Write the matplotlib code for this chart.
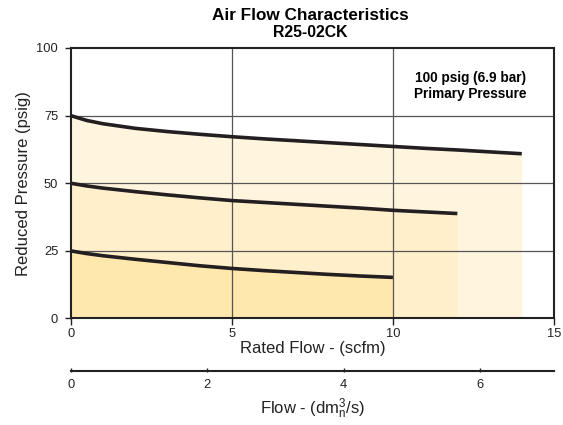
import matplotlib
matplotlib.use("Agg")
import matplotlib.pyplot as plt

plt.rcParams['font.family'] = ['Liberation Sans', 'DejaVu Sans']
plt.rcParams['mathtext.fontset'] = 'custom'
plt.rcParams['mathtext.rm'] = 'Liberation Sans'
plt.rcParams['mathtext.it'] = 'Liberation Sans'

# flow (scfm) vs reduced pressure (psig) at 100 psig primary
flow_75 = [0, 0.5, 1, 2, 3, 4, 5, 6, 7, 8, 9, 10, 11, 12, 13, 14]
psig_75 = [75, 73.2, 72.0, 70.3, 69.1, 68.1, 67.2, 66.4, 65.7, 65.0, 64.3, 63.6, 62.9, 62.3, 61.6, 60.9]

flow_50 = [0, 0.5, 1, 2, 3, 4, 5, 6, 7, 8, 9, 10, 11, 12]
psig_50 = [50, 49.0, 48.2, 46.9, 45.7, 44.6, 43.6, 42.9, 42.2, 41.5, 40.8, 40.0, 39.4, 38.8]

flow_25 = [0, 0.5, 1, 2, 3, 4, 5, 6, 7, 8, 9, 10]
psig_25 = [25, 24.0, 23.2, 21.9, 20.7, 19.5, 18.5, 17.7, 17.0, 16.3, 15.7, 15.2]

scfm_ticks = [0, 5, 10, 15]
psig_ticks = [0, 25, 50, 75, 100]
dm3_ticks = [0, 2, 4, 6]
scfm_to_dm3 = 0.472

fill_colors = ['#fff5df', '#ffefca', '#ffe8ad']
line_color = '#231f20'

fig = plt.figure(figsize=(5.63, 4.25), dpi=100)
ax = fig.add_axes([0.1256, 0.2506, 0.8584, 0.6365])

ax.fill_between(flow_75, psig_75, 0, color=fill_colors[0], lw=0, zorder=1)
ax.fill_between(flow_50, psig_50, 0, color=fill_colors[1], lw=0, zorder=1)
ax.fill_between(flow_25, psig_25, 0, color=fill_colors[2], lw=0, zorder=1)

for gx in [5, 10]:
    ax.axvline(gx, color='#555555', lw=0.9, zorder=2)
for gy in [25, 50, 75]:
    ax.axhline(gy, color='#555555', lw=0.9, zorder=2)

for fx, py in [(flow_75, psig_75), (flow_50, psig_50), (flow_25, psig_25)]:
    ax.plot(fx, py, color=line_color, lw=2.6, solid_capstyle='butt', zorder=3)

ax.set_xlim(0, 15)
ax.set_ylim(0, 100)
ax.set_xticks(scfm_ticks)
ax.set_yticks(psig_ticks)
ax.tick_params(direction='out', width=1, labelsize=9.3, colors='#222222')
ax.tick_params(axis='x', length=5, pad=1.5)
ax.tick_params(axis='y', length=4.5, pad=4.5)
for s in ax.spines.values():
    s.set_linewidth(1.5)
    s.set_color('#222222')
ax.set_xlabel('Rated Flow - (scfm)', fontsize=12, labelpad=1, color='#222222')
ax.set_ylabel('Reduced Pressure (psig)', fontsize=12, labelpad=4, color='#222222')

ax.text(12.4, 88.9, '100 psig (6.9 bar)', ha='center', va='center', fontsize=9.8, fontweight='bold')
ax.text(12.4, 83.0, 'Primary Pressure', ha='center', va='center', fontsize=9.8, fontweight='bold')

fig.text(0.5515, 0.9647, 'Air Flow Characteristics', ha='center', va='center', fontsize=12.3, fontweight='bold')
fig.text(0.5515, 0.9224, 'R25-02CK', ha='center', va='center', fontsize=11.4, fontweight='bold')

# secondary metric flow scale
ax2 = fig.add_axes([0.1256, 0.1254, 0.8584, 0.001])
ax2.set_xlim(0, 15 * scfm_to_dm3)
ax2.set_xticks(dm3_ticks)
ax2.set_yticks([])
for name in ['left', 'right', 'bottom']:
    ax2.spines[name].set_visible(False)
ax2.spines['top'].set_linewidth(1.5)
ax2.spines['top'].set_color('#222222')
ax2.tick_params(axis='x', direction='in', length=3, width=1, labelsize=9.3, colors='#222222', pad=5)
ax2.set_xlabel(r'Flow - (dm$_n^3$/s)', fontsize=12, labelpad=4, color='#222222')

fig.savefig('out.png', dpi=100)
